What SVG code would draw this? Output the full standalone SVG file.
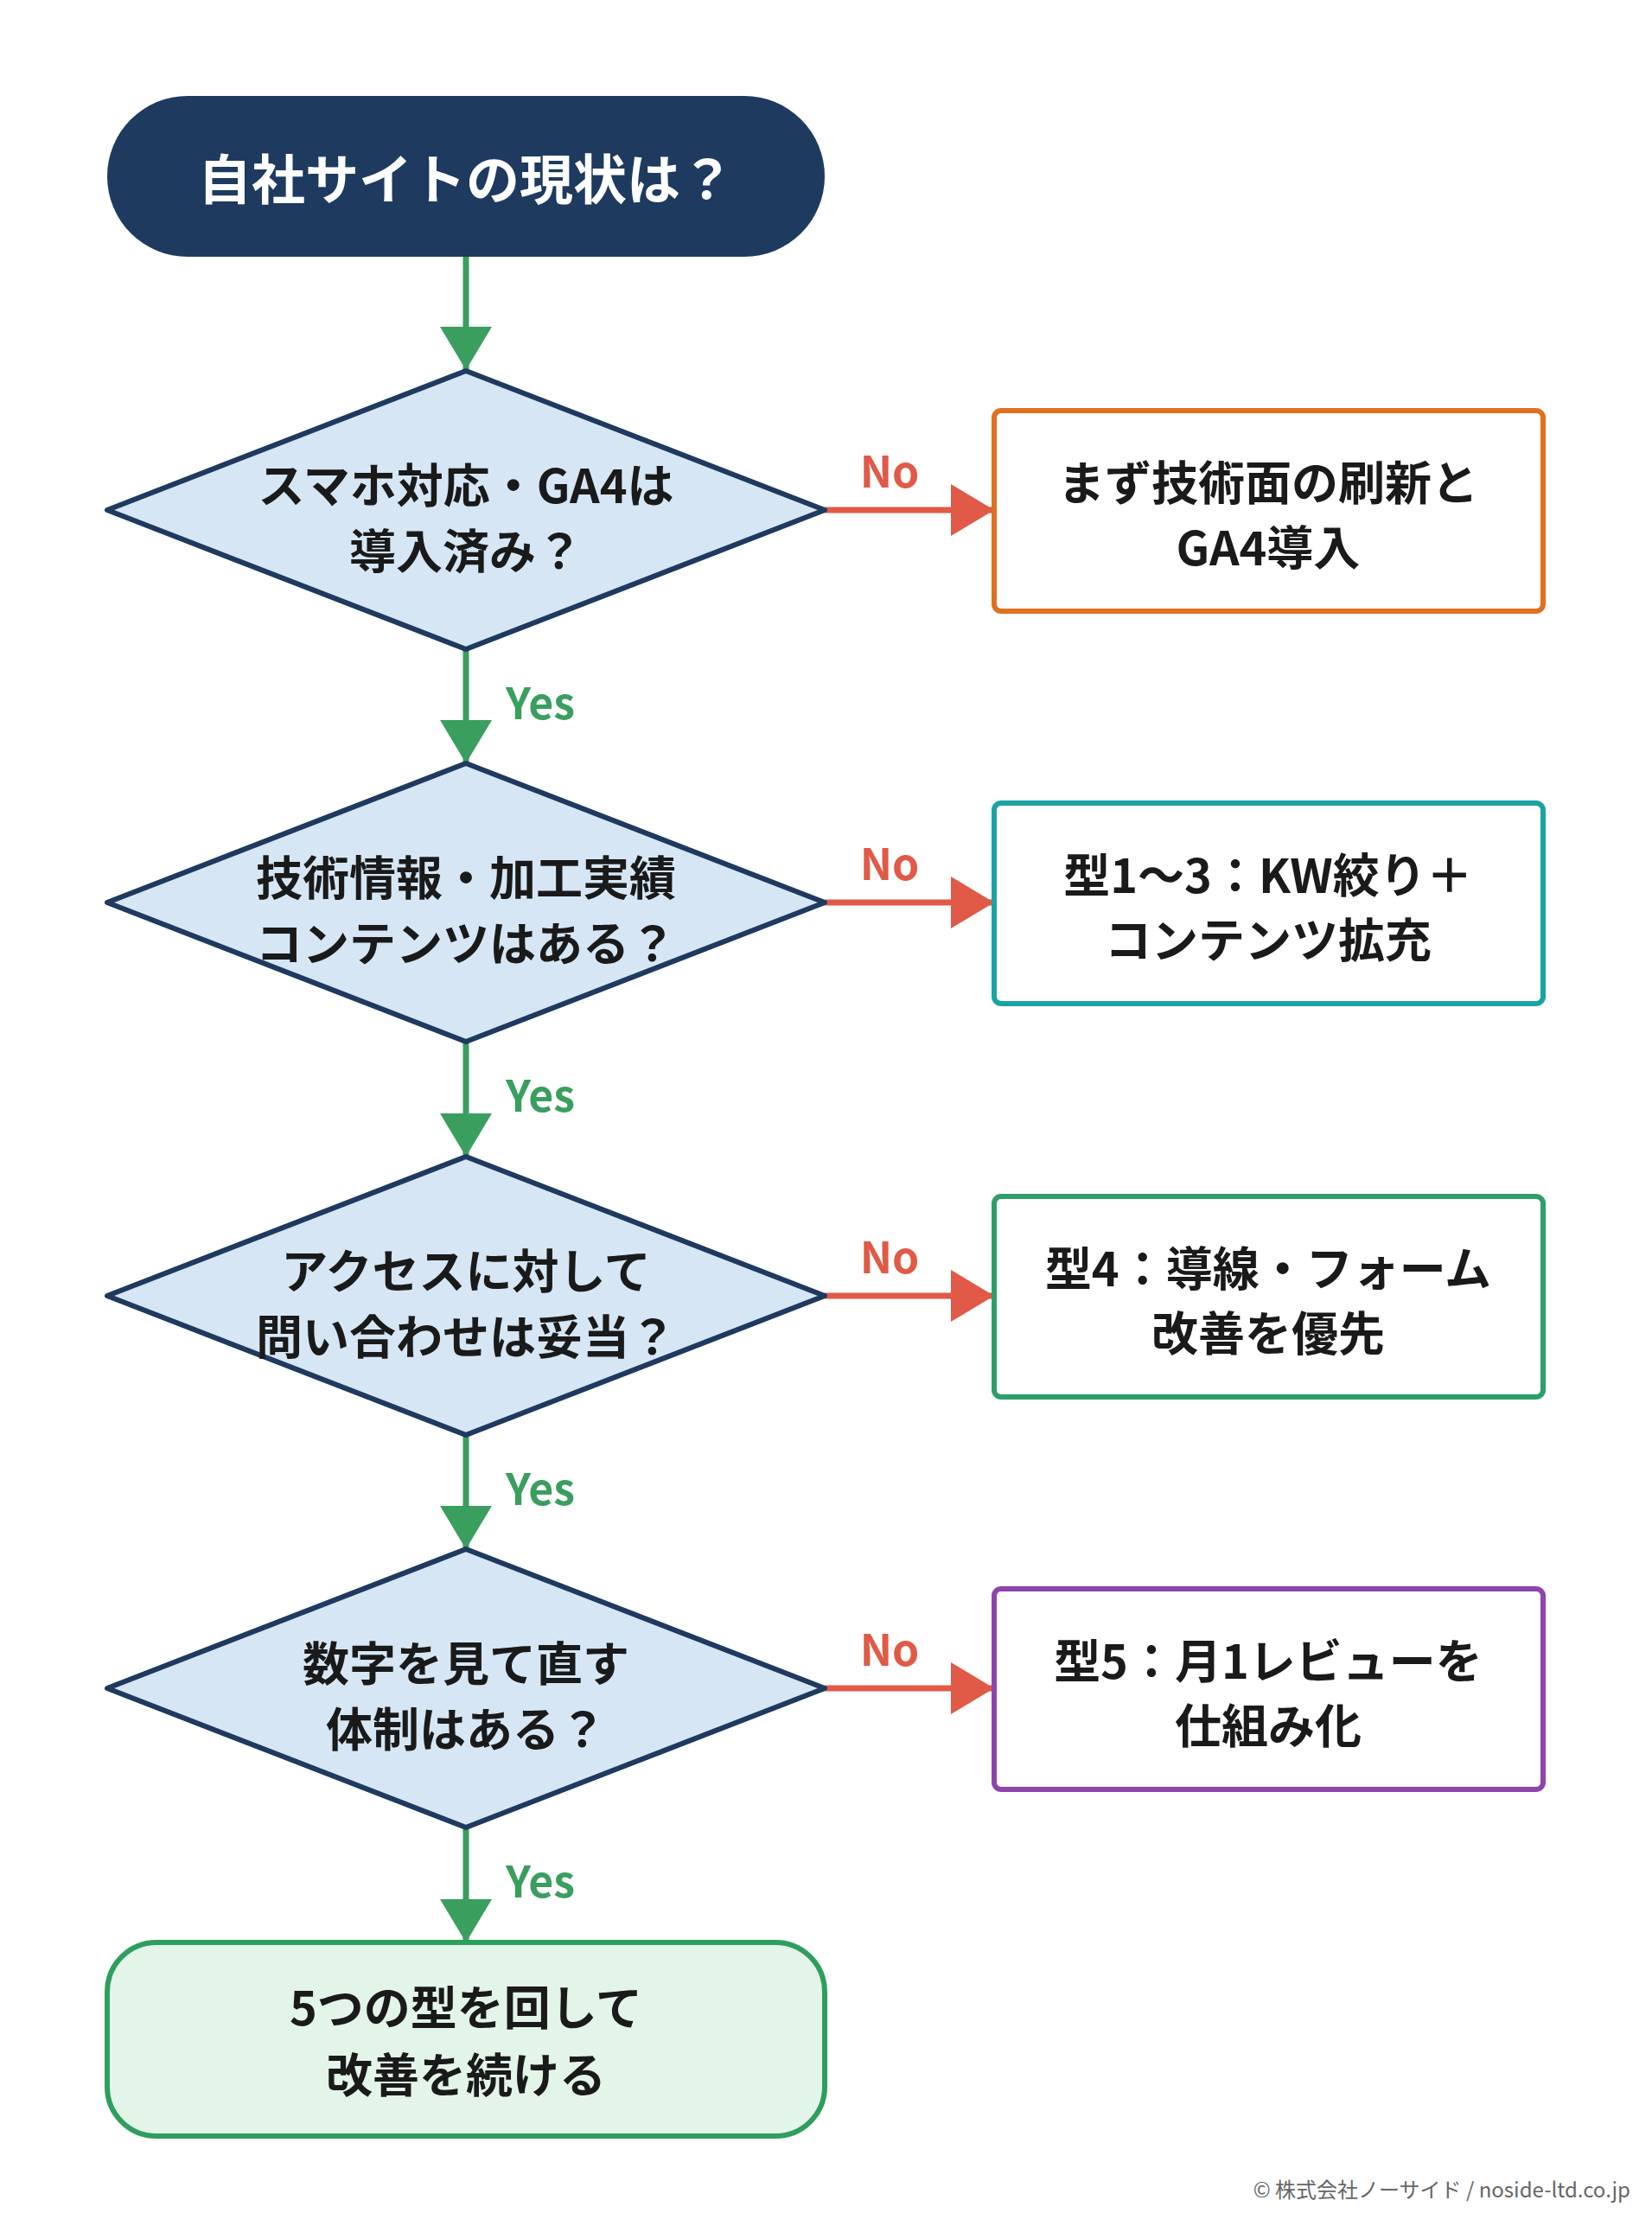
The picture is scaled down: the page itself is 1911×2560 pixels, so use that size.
<svg xmlns="http://www.w3.org/2000/svg" width="1911" height="2560" viewBox="0 0 1911 2560">
<style>
text{font-family:"Noto Sans CJK JP","Noto Sans",sans-serif;font-weight:700;text-anchor:middle;dominant-baseline:central}
.q{font-size:54px;fill:#1a1a1a}
.d{fill:#d6e6f5;stroke:#1e3a5f;stroke-width:6;stroke-linejoin:round}
.b{fill:#fff;stroke-width:6}
.g{stroke:#3a9e5f;stroke-width:7;fill:none}
.r{stroke:#e05a47;stroke-width:7;fill:none}
.yes{font-size:50px;fill:#3a9e5f}
.no{font-size:50px;fill:#e05a47}
</style>
<defs>
<marker id="ag" markerUnits="userSpaceOnUse" markerWidth="60" markerHeight="60" refX="50" refY="30" orient="auto"><path d="M0,0 L50,30 L0,60 Z" fill="#3a9e5f"/></marker>
<marker id="ar" markerUnits="userSpaceOnUse" markerWidth="60" markerHeight="60" refX="50" refY="30" orient="auto"><path d="M0,0 L50,30 L0,60 Z" fill="#e05a47"/></marker>
</defs>
<rect width="1911" height="2560" fill="#fff"/>
<g id="connectors">
<line class="g" x1="539" y1="297" x2="539" y2="428" marker-end="url(#ag)"/>
<line class="g" x1="539" y1="751" x2="539" y2="883" marker-end="url(#ag)"/>
<line class="g" x1="539" y1="1205" x2="539" y2="1338" marker-end="url(#ag)"/>
<line class="g" x1="539" y1="1660" x2="539" y2="1792" marker-end="url(#ag)"/>
<line class="g" x1="539" y1="2114" x2="539" y2="2247" marker-end="url(#ag)"/>
<line class="r" x1="954" y1="590" x2="1150" y2="590" marker-end="url(#ar)"/>
<line class="r" x1="954" y1="1044" x2="1150" y2="1044" marker-end="url(#ar)"/>
<line class="r" x1="954" y1="1499" x2="1150" y2="1499" marker-end="url(#ar)"/>
<line class="r" x1="954" y1="1953" x2="1150" y2="1953" marker-end="url(#ar)"/>
<text class="yes" x="625" y="810">Yes</text>
<text class="yes" x="625" y="1264">Yes</text>
<text class="yes" x="625" y="1719">Yes</text>
<text class="yes" x="625" y="2173">Yes</text>
<text class="no" x="1029" y="542">No</text>
<text class="no" x="1029" y="996">No</text>
<text class="no" x="1029" y="1451">No</text>
<text class="no" x="1029" y="1905">No</text>
</g>
<g id="start"><rect x="124" y="111" width="830" height="186" rx="93" fill="#1e3a5f"/><text x="539" y="204" font-size="62" fill="#fff">自社サイトの現状は？</text></g>
<g id="q1"><polygon class="d" points="124,590 539,429 954,590 539,751"/><text class="q" x="539" y="558">スマホ対応・GA4は</text><text class="q" x="539" y="634">導入済み？</text></g>
<g id="q2"><polygon class="d" points="124,1044 539,883 954,1044 539,1205"/><text class="q" x="539" y="1012">技術情報・加工実績</text><text class="q" x="539" y="1088">コンテンツはある？</text></g>
<g id="q3"><polygon class="d" points="124,1499 539,1338 954,1499 539,1660"/><text class="q" x="539" y="1467">アクセスに対して</text><text class="q" x="539" y="1543">問い合わせは妥当？</text></g>
<g id="q4"><polygon class="d" points="124,1953 539,1792 954,1953 539,2114"/><text class="q" x="539" y="1921">数字を見て直す</text><text class="q" x="539" y="1997">体制はある？</text></g>
<g id="a1"><rect class="b" x="1150" y="475" width="635" height="232" rx="8" stroke="#e07020"/><text class="q" x="1467" y="555">まず技術面の刷新と</text><text class="q" x="1467" y="630">GA4導入</text></g>
<g id="a2"><rect class="b" x="1150" y="929" width="635" height="232" rx="8" stroke="#1aa3a3"/><text class="q" x="1467" y="1009">型1〜3：KW絞り＋</text><text class="q" x="1467" y="1084">コンテンツ拡充</text></g>
<g id="a3"><rect class="b" x="1150" y="1384" width="635" height="232" rx="8" stroke="#2e9e6a"/><text class="q" x="1467" y="1464">型4：導線・フォーム</text><text class="q" x="1467" y="1539">改善を優先</text></g>
<g id="a4"><rect class="b" x="1150" y="1838" width="635" height="232" rx="8" stroke="#8e44ad"/><text class="q" x="1467" y="1918">型5：月1レビューを</text><text class="q" x="1467" y="1993">仕組み化</text></g>
<g id="end"><rect x="124" y="2247" width="830" height="224" rx="57" fill="#e3f4e8" stroke="#2e9e5e" stroke-width="6"/><text class="q" x="539" y="2319">5つの型を回して</text><text class="q" x="539" y="2397">改善を続ける</text></g>
<text x="1886" y="2531" font-size="24" fill="#666" style="text-anchor:end;font-weight:400">© 株式会社ノーサイド / noside-ltd.co.jp</text>
</svg>
